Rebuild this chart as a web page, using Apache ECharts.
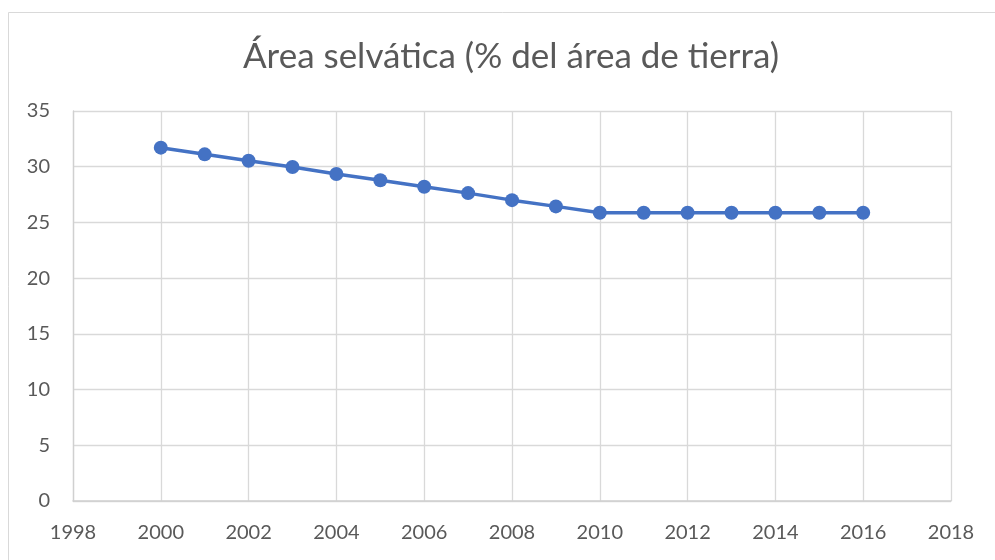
<!DOCTYPE html>
<html>
<head>
<meta charset="utf-8">
<script src="https://cdn.jsdelivr.net/npm/echarts@6/dist/echarts.min.js"></script>
<style>
    html, body { margin: 0; padding: 0; background: #fff; }
    #main { width: 995px; height: 560px; }
</style>
</head>
<body>
<div id="main"></div>
<script>
    // datos
    var years = [2000, 2001, 2002, 2003, 2004, 2005, 2006, 2007, 2008, 2009, 2010, 2011, 2012, 2013, 2014, 2015, 2016];
    var forestPct = [31.71, 31.11, 30.54, 29.97, 29.34, 28.78, 28.2, 27.63, 27.0, 26.44, 25.87, 25.87, 25.87, 25.87, 25.87, 25.87, 25.87];
    var titleText = 'Área selvática (% del área de tierra)';

    var points = [];
    for (var i = 0; i < years.length; i++) {
        points.push([years[i], forestPct[i]]);
    }

    var myChart = echarts.init(document.getElementById('main'));
    var option = {
        backgroundColor: '#fff',
        animation: false,
        textStyle: { fontFamily: 'Lato' },
        title: {
            text: titleText,
            left: 238,
            top: 34,
            textStyle: {
                fontFamily: 'Lato',
                fontWeight: 'normal',
                fontSize: 35,
                color: '#595959'
            }
        },
        graphic: [{
            type: 'rect',
            shape: { x: 8.5, y: 12.5, width: 1100, height: 700 },
            style: { fill: 'none', stroke: '#d9d9d9', lineWidth: 1 },
            silent: true
        }],
        grid: { left: 73, right: 44, top: 111, bottom: 59 },
        xAxis: {
            type: 'value',
            min: 1998,
            max: 2018,
            interval: 2,
            axisLine: { show: true, lineStyle: { color: '#d0d0d0', width: 1.5 } },
            axisTick: { show: false },
            axisLabel: {
                color: '#595959', fontSize: 20, margin: 22, fontFamily: 'Lato',
                formatter: function (v) { return String(v); }
            },
            splitLine: { show: true, lineStyle: { color: '#d9d9d9', width: 1.3 } }
        },
        yAxis: {
            type: 'value',
            min: 0,
            max: 35,
            interval: 5,
            axisLine: { show: true, lineStyle: { color: '#d0d0d0', width: 1.3 } },
            axisTick: { show: false },
            axisLabel: { color: '#595959', fontSize: 20, margin: 23, fontFamily: 'Lato' },
            splitLine: { show: true, lineStyle: { color: '#d9d9d9', width: 1.3 } }
        },
        series: [{
            type: 'line',
            data: points,
            symbol: 'circle',
            symbolSize: 14,
            lineStyle: { color: '#4472c4', width: 3.5 },
            itemStyle: { color: '#4472c4' }
        }]
    };
    myChart.setOption(option);
</script>
</body>
</html>
